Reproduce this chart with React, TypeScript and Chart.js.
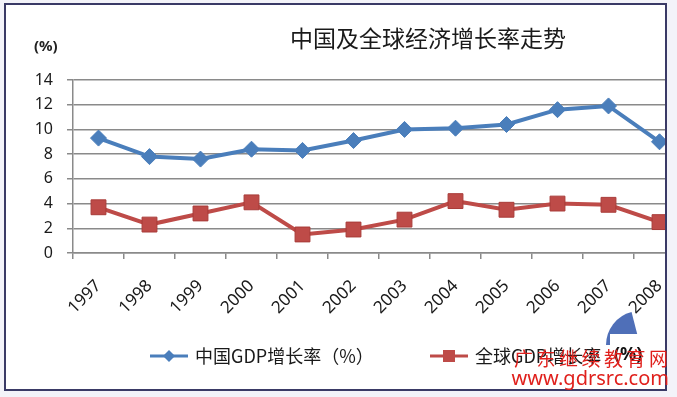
import React, { useEffect, useRef } from "react";
import { Chart, registerables } from "chart.js";

Chart.register(...registerables);

const years = ["1997", "1998", "1999", "2000", "2001", "2002", "2003", "2004", "2005", "2006", "2007", "2008"];
const chinaGdp = [9.3, 7.8, 7.6, 8.4, 8.3, 9.1, 10.0, 10.1, 10.4, 11.6, 11.9, 9.0];
const worldGdp = [3.7, 2.3, 3.2, 4.1, 1.5, 1.9, 2.7, 4.2, 3.5, 4.0, 3.9, 2.5];
const yTicks = [0, 2, 4, 6, 8, 10, 12, 14];
const seriesNames = ["中国GDP增长率（%）", "全球GDP增长率（%）"];
const titleText = "中国及全球经济增长率走势";
const unitText = "(%)";

const BLUE = "#4a7ebb";
const RED = "#be4b48";
const FONT = "'Noto Sans', 'Noto Sans CJK SC', sans-serif";
const CJK = "'Noto Sans CJK SC', 'Noto Sans', sans-serif";

const decorPlugin = {
  id: "decor",
  beforeDraw(chart: any) {
    const ctx = chart.ctx;
    ctx.save();
    ctx.fillStyle = "#ffffff";
    ctx.fillRect(0, 0, chart.width, chart.height);
    ctx.restore();
  },
  afterDraw(chart: any) {
    const ctx = chart.ctx;
    ctx.save();
    // title
    ctx.fillStyle = "#1a1a1a";
    ctx.font = `23px ${CJK}`;
    ctx.textAlign = "center";
    ctx.textBaseline = "middle";
    ctx.fillText(titleText, 428, 38);
    // unit
    ctx.font = `bold 15px ${FONT}`;
    ctx.textAlign = "left";
    ctx.fillStyle = "#222";
    ctx.fillText(unitText, 34, 47);

    // legend
    const ds = chart.data.datasets;
    const items = [
      { x: 150, ds: ds[0], shape: "diamond" },
      { x: 430, ds: ds[1], shape: "square" },
    ];
    const ly = 356;
    for (const it of items) {
      ctx.strokeStyle = it.ds.borderColor;
      ctx.lineWidth = 3;
      ctx.beginPath();
      ctx.moveTo(it.x, ly);
      ctx.lineTo(it.x + 38, ly);
      ctx.stroke();
      ctx.fillStyle = it.ds.backgroundColor;
      const cx = it.x + 19;
      if (it.shape === "diamond") {
        ctx.beginPath();
        ctx.moveTo(cx, ly - 6);
        ctx.lineTo(cx + 6, ly);
        ctx.lineTo(cx, ly + 6);
        ctx.lineTo(cx - 6, ly);
        ctx.closePath();
        ctx.fill();
      } else {
        ctx.fillRect(cx - 6, ly - 6, 12, 12);
      }
      ctx.fillStyle = "#1a1a1a";
      ctx.font = `18px ${CJK}`;
      ctx.textAlign = "left";
      ctx.textBaseline = "middle";
      ctx.fillText(it.ds.label, it.x + 45, ly);
    }

    // stray image artefact (white patch + blue wedge)
    ctx.fillStyle = "#ffffff";
    ctx.fillRect(604, 334, 48, 34);
    ctx.fillStyle = "#4f6fb8";
    ctx.beginPath();
    ctx.moveTo(640, 345);
    ctx.arc(640, 345, 34, Math.PI, Math.PI * 1.42);
    ctx.closePath();
    ctx.fill();
    ctx.fillStyle = "#ffffff";
    ctx.fillRect(610, 334, 40, 34);
    ctx.fillStyle = "#111";
    ctx.font = `bold 18px ${FONT}`;
    ctx.textAlign = "left";
    ctx.fillText("(%)", 614, 355);

    // outside frame
    ctx.fillStyle = "#f3f3f9";
    ctx.fillRect(666, 0, chart.width - 666, chart.height);
    ctx.fillRect(0, 390, chart.width, chart.height - 390);
    ctx.fillRect(0, 0, 5, chart.height);
    ctx.fillRect(0, 0, chart.width, 4);
    ctx.strokeStyle = "#3a3a66";
    ctx.lineWidth = 2;
    ctx.strokeRect(5, 4, 661, 386);

    // watermark
    ctx.fillStyle = "#e0201c";
    ctx.textAlign = "left";
    ctx.font = `19px ${CJK}`;
    (ctx as any).letterSpacing = "3.5px";
    ctx.fillText("广东继续教育网", 514, 359);
    (ctx as any).letterSpacing = "0px";
    ctx.font = `20px ${FONT}`;
    ctx.textAlign = "right";
    ctx.fillText("www.gdrsrc.com", 669, 379);
    ctx.restore();
  },
};

export default function App() {
  const ref = useRef<HTMLCanvasElement>(null);
  useEffect(() => {
    document.body.style.margin = "0";
    const chart = new Chart(ref.current as HTMLCanvasElement, {
      type: "line",
      data: {
        labels: years,
        datasets: [
          {
            label: seriesNames[0],
            data: chinaGdp,
            borderColor: BLUE,
            backgroundColor: BLUE,
            borderWidth: 4,
            pointStyle: "rectRot",
            pointRadius: 8,
            pointBorderWidth: 1,
            pointBorderColor: BLUE,
            tension: 0,
          },
          {
            label: seriesNames[1],
            data: worldGdp,
            borderColor: RED,
            backgroundColor: RED,
            borderWidth: 4,
            pointStyle: "rect",
            pointRadius: 10.5,
            pointBorderWidth: 1,
            pointBorderColor: "#a83b38",
            tension: 0,
          },
        ],
      },
      options: {
        animation: false,
        responsive: false,
        devicePixelRatio: 1,
        layout: { padding: { top: 80, right: 15, left: 0, bottom: 0 } },
        plugins: { legend: { display: false }, title: { display: false }, tooltip: { enabled: false } },
        scales: {
          x: {
            offset: true,
            grid: { offset: true, drawOnChartArea: false, color: "#8a8a8a", tickLength: 6, lineWidth: 1.5 },
            border: { color: "#8a8a8a", width: 1.5 },
            ticks: {
              color: "#1a1a1a",
              font: { family: FONT, size: 17 },
              minRotation: 45,
              maxRotation: 45,
              padding: 17,
            },
            afterFit(scale: any) {
              scale.height = 144;
            },
          },
          y: {
            min: 0,
            max: 14,
            afterBuildTicks(scale: any) {
              scale.ticks = yTicks.map((v) => ({ value: v }));
            },
            grid: { color: "#8a8a8a", lineWidth: 1.5, tickLength: 6 },
            border: { color: "#8a8a8a", width: 1.5 },
            ticks: { color: "#1a1a1a", font: { family: FONT, size: 16 }, padding: 14 },
            afterFit(scale: any) {
              scale.width = 73;
            },
          },
        },
      },
      plugins: [decorPlugin],
    } as any);
    return () => chart.destroy();
  }, []);
  return (
    <div style={{ width: 677, height: 397, overflow: "hidden", position: "relative" }}>
      <canvas ref={ref} width={700} height={397} style={{ width: 700, height: 397, display: "block" }} />
    </div>
  );
}
